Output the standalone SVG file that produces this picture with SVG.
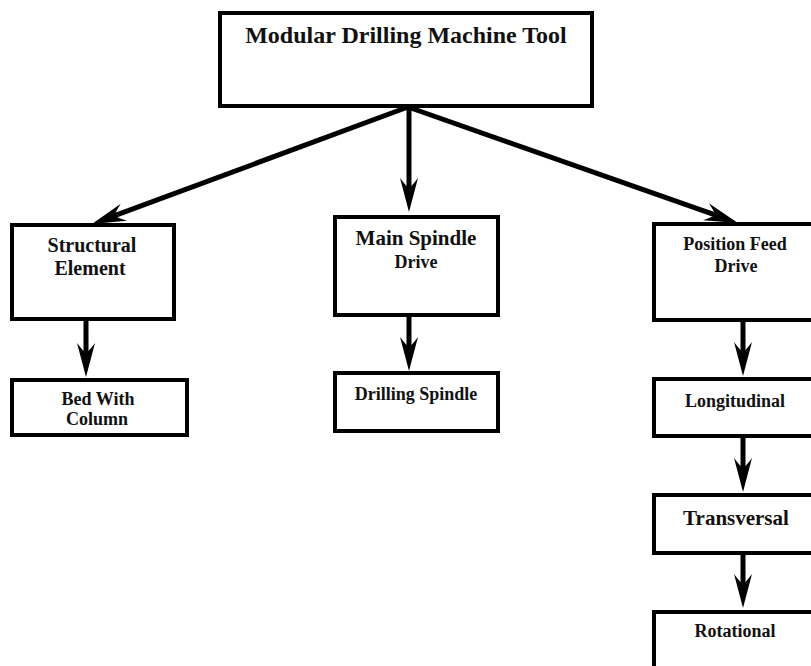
<svg xmlns="http://www.w3.org/2000/svg" width="811" height="666" viewBox="0 0 811 666">
<style>
.box{fill:#fff;stroke:#000;stroke-width:4}
.t{font-family:"Liberation Serif","Times New Roman",serif;font-weight:bold;fill:#111;text-anchor:middle}
.conn{stroke:#000;stroke-width:5;fill:none;marker-end:url(#ah)}
</style>
<defs>
<marker id="ah" viewBox="0 -10 36 20" markerWidth="36" markerHeight="20" refX="12" refY="0" orient="auto" markerUnits="userSpaceOnUse">
<path d="M0,-9 L34,0 L0,9 Q8,3 10,0 Q8,-3 0,-9 Z" fill="#000"/>
</marker>
</defs>
<rect width="811" height="666" fill="#fff"/>
<g id="n-root"><rect class="box" x="220" y="13" width="372" height="93"/><text class="t" x="406" y="43" font-size="24">Modular Drilling Machine Tool</text></g>
<g id="n-structural"><rect class="box" x="12" y="225" width="162" height="94"/><text class="t" x="92" y="252" font-size="20">Structural</text><text class="t" x="90" y="275" font-size="20">Element</text></g>
<g id="n-bed"><rect class="box" x="12" y="380" width="175" height="55"/><text class="t" x="98" y="405" font-size="18">Bed With</text><text class="t" x="97" y="425" font-size="18">Column</text></g>
<g id="n-mainspindle"><rect class="box" x="335" y="217" width="163" height="98"/><text class="t" x="416" y="245" font-size="21">Main Spindle</text><text class="t" x="416" y="268" font-size="18">Drive</text></g>
<g id="n-drilling"><rect class="box" x="335" y="373" width="163" height="58"/><text class="t" x="416" y="400" font-size="18">Drilling Spindle</text></g>
<g id="n-posfeed"><rect class="box" x="654" y="224" width="170" height="96"/><text class="t" x="735" y="250" font-size="18">Position Feed</text><text class="t" x="736" y="272" font-size="18">Drive</text></g>
<g id="n-longitudinal"><rect class="box" x="654" y="379" width="170" height="57"/><text class="t" x="735" y="407" font-size="18">Longitudinal</text></g>
<g id="n-transversal"><rect class="box" x="654" y="495" width="170" height="58"/><text class="t" x="736" y="525" font-size="21">Transversal</text></g>
<g id="n-rotational"><rect class="box" x="654" y="612" width="170" height="70"/><text class="t" x="735" y="637" font-size="18">Rotational</text></g>
<g id="connectors">
<line class="conn" x1="408" y1="107" x2="112.6" y2="216.4"/>
<line class="conn" x1="409" y1="107" x2="409" y2="190"/>
<line class="conn" x1="408" y1="107" x2="717.2" y2="215.7"/>
<line class="conn" x1="86" y1="319" x2="86" y2="355"/>
<line class="conn" x1="409" y1="315" x2="409" y2="349"/>
<line class="conn" x1="743" y1="320" x2="743" y2="354"/>
<line class="conn" x1="743" y1="436" x2="743" y2="470"/>
<line class="conn" x1="743" y1="553" x2="743" y2="586"/>
</g>
</svg>
